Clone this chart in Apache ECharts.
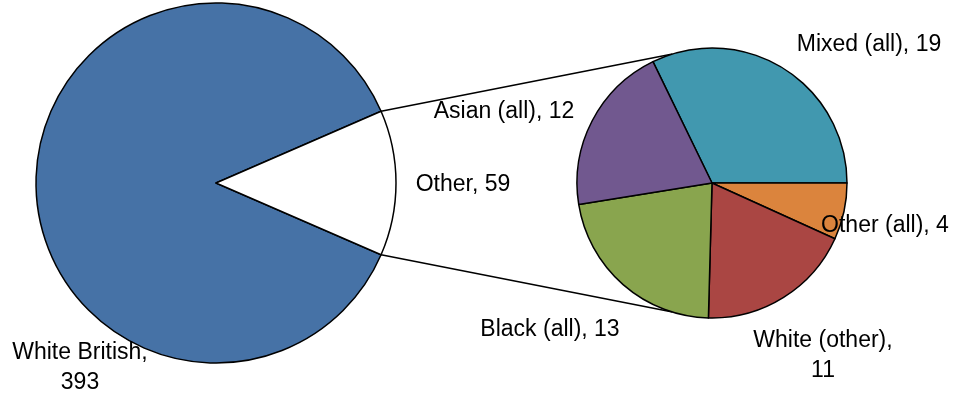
<!DOCTYPE html>
<html>
<head>
<meta charset="utf-8">
<title>Ethnic groups – pie of pie</title>
<script src="https://cdn.jsdelivr.net/npm/echarts@6/dist/echarts.min.js"></script>
<style>
  html, body { margin: 0; padding: 0; background: #ffffff; }
  #chart { width: 954px; height: 398px; }
</style>
</head>
<body>
<div id="chart"></div>
<script>
// Main breakdown
const mainNames = ['White British', 'Other'];
const mainValues = [393, 59];

// Breakdown of the "Other" slice
const subNames = ['Mixed (all)', 'Other (all)', 'White (other)', 'Black (all)', 'Asian (all)'];
const subValues = [19, 4, 11, 13, 12];

// Styling
const mainColors = ['#4672A6', '#FFFFFF'];
const subColors = ['#4198AF', '#DB843D', '#AA4643', '#89A54E', '#71588F'];
const wrapped = new Set(['White British', 'White (other)']);

// Geometry of the two pies
const mainCenter = [216, 183], mainRadius = 180;
const subCenter = [712, 183], subRadius = 135;

// Label anchor points (centre of each label)
const mainLabelPos = [[80, 368], [463, 185]];
const subLabelPos = [[869, 45], [885, 226], [823, 356], [550, 330], [504, 112]];

const FONT = '"Liberation Sans", Arial, sans-serif';

const mainTotal = mainValues.reduce((a, b) => a + b, 0);
const otherSweep = mainValues[1] / mainTotal * 360;
const subTotal = subValues.reduce((a, b) => a + b, 0);
const subStart = subValues[0] / subTotal * 360;

function fmt(p) {
  return wrapped.has(p.name) ? p.name + ',\n' + p.value : p.name + ', ' + p.value;
}

function layoutFrom(pos) {
  return function (params) {
    const p = pos[params.dataIndex];
    return { x: p[0], y: p[1], align: 'center', verticalAlign: 'middle' };
  };
}

// Connector lines: from the edges of the "Other" slice to the secondary pie
const rad = d => d * Math.PI / 180;
const half = otherSweep / 2;
const mTop = [mainCenter[0] + mainRadius * Math.cos(rad(half)), mainCenter[1] - mainRadius * Math.sin(rad(half))];
const mBot = [mainCenter[0] + mainRadius * Math.cos(rad(-half)), mainCenter[1] - mainRadius * Math.sin(rad(-half))];
const sTop = [subCenter[0] + subRadius * Math.cos(rad(107)), subCenter[1] - subRadius * Math.sin(rad(107))];
const sBot = [subCenter[0] + subRadius * Math.cos(rad(-107)), subCenter[1] - subRadius * Math.sin(rad(-107))];

const chart = echarts.init(document.getElementById('chart'), null, { renderer: 'canvas' });

const labelStyle = {
  show: true,
  position: 'outside',
  formatter: fmt,
  color: '#000000',
  fontFamily: FONT,
  fontSize: 23,
  lineHeight: 30
};

chart.setOption({
  animation: false,
  backgroundColor: '#ffffff',
  graphic: [
    { type: 'line', z: 1, shape: { x1: mTop[0], y1: mTop[1], x2: sTop[0], y2: sTop[1] }, style: { stroke: '#000', lineWidth: 1.5 } },
    { type: 'line', z: 1, shape: { x1: mBot[0], y1: mBot[1], x2: sBot[0], y2: sBot[1] }, style: { stroke: '#000', lineWidth: 1.5 } }
  ],
  series: [
    {
      type: 'pie',
      center: mainCenter,
      radius: [0, mainRadius],
      startAngle: -half,
      clockwise: true,
      avoidLabelOverlap: false,
      z: 2,
      label: labelStyle,
      labelLine: { show: false },
      labelLayout: layoutFrom(mainLabelPos),
      itemStyle: { borderColor: '#000000', borderWidth: 1.5 },
      emphasis: { disabled: true },
      data: mainNames.map((n, i) => ({ name: n, value: mainValues[i], itemStyle: { color: mainColors[i] } }))
    },
    {
      type: 'pie',
      center: subCenter,
      radius: [0, subRadius],
      startAngle: subStart,
      clockwise: true,
      avoidLabelOverlap: false,
      z: 2,
      label: labelStyle,
      labelLine: { show: false },
      labelLayout: layoutFrom(subLabelPos),
      itemStyle: { borderColor: '#000000', borderWidth: 1.5 },
      emphasis: { disabled: true },
      data: subNames.map((n, i) => ({ name: n, value: subValues[i], itemStyle: { color: subColors[i] } }))
    }
  ]
});
</script>
</body>
</html>
